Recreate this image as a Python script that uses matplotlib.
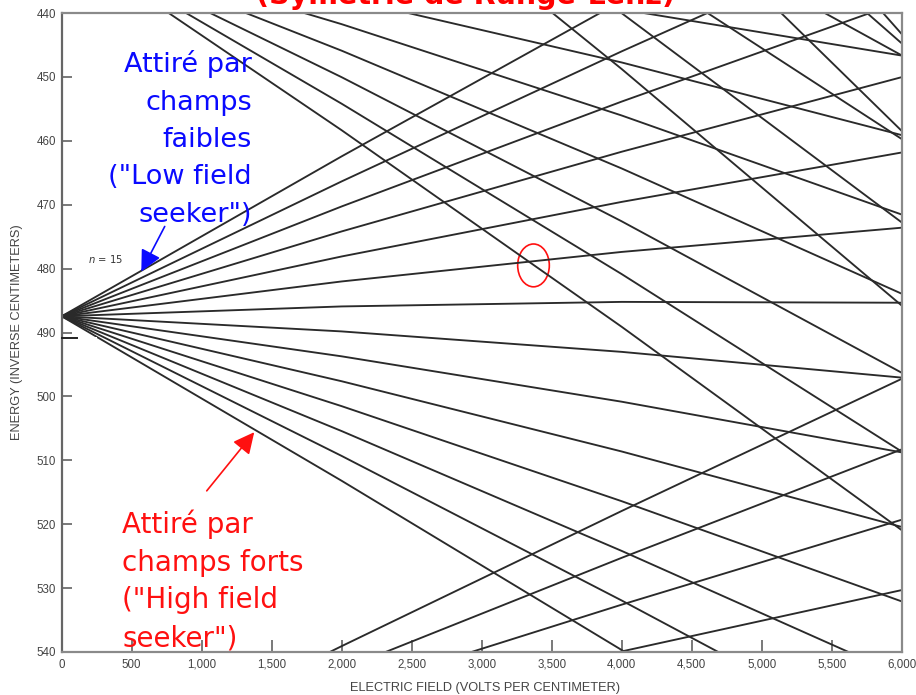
import numpy as np
import matplotlib
matplotlib.use("Agg")
import matplotlib.pyplot as plt
from matplotlib.patches import Ellipse, Rectangle, FancyArrowPatch
from matplotlib.lines import Line2D

W, H, DPI = 916, 695, 100

# Stark levels of the m = 1 manifolds: energy (cm^-1) read at these field values (V/cm)
field_vcm = [0, 2000, 4000, 6000]

n14_k = [12, 10, 8, 6]
n14_energy = [
    [560.72, 539.08, 517.93, 497.25],
    [560.72, 542.74, 525.26, 508.29],
    [560.72, 546.40, 532.59, 519.30],
    [560.72, 550.05, 539.91, 530.31],
]

n15_k = [13, 11, 9, 7, 5, 3, 1, -1, -3, -5, -7, -9, -11, -13]
n15_energy = [
    [487.46, 462.43, 438.12, 414.54],
    [487.46, 466.35, 446.00, 426.40],
    [487.46, 470.27, 453.86, 438.23],
    [487.46, 474.18, 461.71, 450.04],
    [487.46, 478.10, 469.56, 461.83],
    [487.46, 482.01, 477.39, 473.60],
    [487.46, 485.92, 485.21, 485.34],
    [487.46, 489.83, 493.03, 497.06],
    [487.46, 493.73, 500.83, 508.76],
    [487.46, 497.63, 508.62, 520.43],
    [487.46, 501.53, 516.40, 532.08],
    [487.46, 505.43, 524.18, 543.71],
    [487.46, 509.32, 531.94, 555.31],
    [487.46, 513.21, 539.69, 566.89],
]

n16_k = [-2, -4, -6, -8, -10, -12, -14]
n16_energy = [
    [428.65, 433.43, 439.43, 446.66],
    [428.65, 437.59, 447.74, 459.11],
    [428.65, 441.75, 456.04, 471.54],
    [428.65, 445.90, 464.33, 483.93],
    [428.65, 450.05, 472.60, 496.30],
    [428.65, 454.20, 480.86, 508.63],
    [428.65, 458.35, 489.11, 520.93],
]

n17_k = [-9, -11, -13, -15]
n17_energy = [
    [379.31, 400.07, 422.51, 446.63],
    [379.31, 404.48, 431.28, 459.72],
    [379.31, 408.88, 440.03, 472.77],
    [379.31, 413.27, 448.77, 485.78],
]

n18_k = [-14, -16]
n18_energy = [
    [336.31, 370.24, 406.38, 444.75],
    [336.31, 374.88, 415.60, 458.45],
]

n19_k = [-17]
n19_energy = [
    [303.82, 347.35, 393.85, 443.29],
]

x_ticks = [0, 500, 1000, 1500, 2000, 2500, 3000, 3500, 4000, 4500, 5000, 5500, 6000]
x_tick_labels = ["0", "500", "1,000", "1,500", "2,000", "2,500", "3,000",
                 "3,500", "4,000", "4,500", "5,000", "5,500", "6,000"]
y_ticks = [440, 450, 460, 470, 480, 490, 500, 510, 520, 530, 540]
y_tick_labels = [str(v) for v in y_ticks]


def fx(x):
    return x / W


def fy(y):
    return 1 - y / H


fig = plt.figure(figsize=(W / DPI, H / DPI), dpi=DPI)
ax = fig.add_axes([fx(61.7), fy(652), (901.7 - 61.7) / W, (652 - 13) / H])
ax.set_xlim(0, 6000)
ax.set_ylim(540, 440)

for energies in (n14_energy, n15_energy, n16_energy, n17_energy, n18_energy, n19_energy):
    for row in energies:
        ax.plot(field_vcm, row, color="#2a2a2a", lw=1.35, solid_joinstyle="round")

axis_font = ["Liberation Sans", "DejaVu Sans"]
ax.set_xticks(x_ticks)
ax.set_xticklabels(x_tick_labels, family=axis_font, fontsize=8.3, color="#444444")
ax.set_yticks(y_ticks)
ax.set_yticklabels(y_tick_labels, family=axis_font, fontsize=8.3, color="#444444")
ax.tick_params(axis="x", direction="in", length=9, width=1.1, color="#555555", pad=5)
ax.tick_params(axis="y", direction="in", length=7, width=1.1, color="#555555", pad=4)
for s in ax.spines.values():
    s.set_color("#8a8a8a")
    s.set_linewidth(1.6)
ax.spines["left"].set_color("#666666")

fig.text(fx(485), fy(688), "ELECTRIC FIELD (VOLTS PER CENTIMETER)", family=axis_font,
         fontsize=9.2, color="#444444", ha="center", va="center")
fig.text(fx(17), fy(332), "ENERGY (INVERSE CENTIMETERS)", family=axis_font,
         fontsize=9.2, color="#444444", ha="center", va="center", rotation=90)

fig.text(fx(105), fy(259), r"$n$ = 15", fontsize=7.2, color="#333333", ha="center", va="center")

fig.text(fx(466), fy(4.5), "(Symétrie de Runge-Lenz)", color="#ff0000", fontsize=20.5,
         fontweight="bold", ha="center", va="baseline")

blue_lines = ["Attiré par", "champs", "faibles", "(\"Low field", "seeker\")"]
for i, t in enumerate(blue_lines):
    fig.text(fx(252), fy(72 + 37.5 * i), t, color="#0a0aff", fontsize=19.5,
             ha="right", va="baseline")

red_lines = ["Attiré par", "champs forts", "(\"High field", "seeker\")"]
for i, t in enumerate(red_lines):
    fig.text(fx(122), fy(533 + 37.7 * i), t, color="#ff1010", fontsize=20,
             ha="left", va="baseline")

fig.add_artist(FancyArrowPatch((fx(166), fy(224)), (fx(140), fy(274)), transform=fig.transFigure,
                               arrowstyle="-|>,head_length=0.65,head_width=0.32", mutation_scale=20,
                               color="#0a0aff", lw=1.2))
fig.add_artist(FancyArrowPatch((fx(205), fy(493)), (fx(256), fy(430)), transform=fig.transFigure,
                               arrowstyle="-|>,head_length=0.65,head_width=0.32", mutation_scale=20,
                               color="#ff1010", lw=1.2))

ax.add_patch(Ellipse((3370, 479.5), 226, 6.7, fill=False, edgecolor="#ff1010", lw=1.2))

fig.add_artist(Rectangle((fx(65), fy(347)), 32 / W, 10 / H, transform=fig.transFigure,
                         facecolor="white", edgecolor="none", zorder=5))
fig.add_artist(Line2D([fx(62), fx(77)], [fy(337.5), fy(337.5)], transform=fig.transFigure,
                      color="#222222", lw=1.4, zorder=6))

fig.savefig("out.png", dpi=DPI)
